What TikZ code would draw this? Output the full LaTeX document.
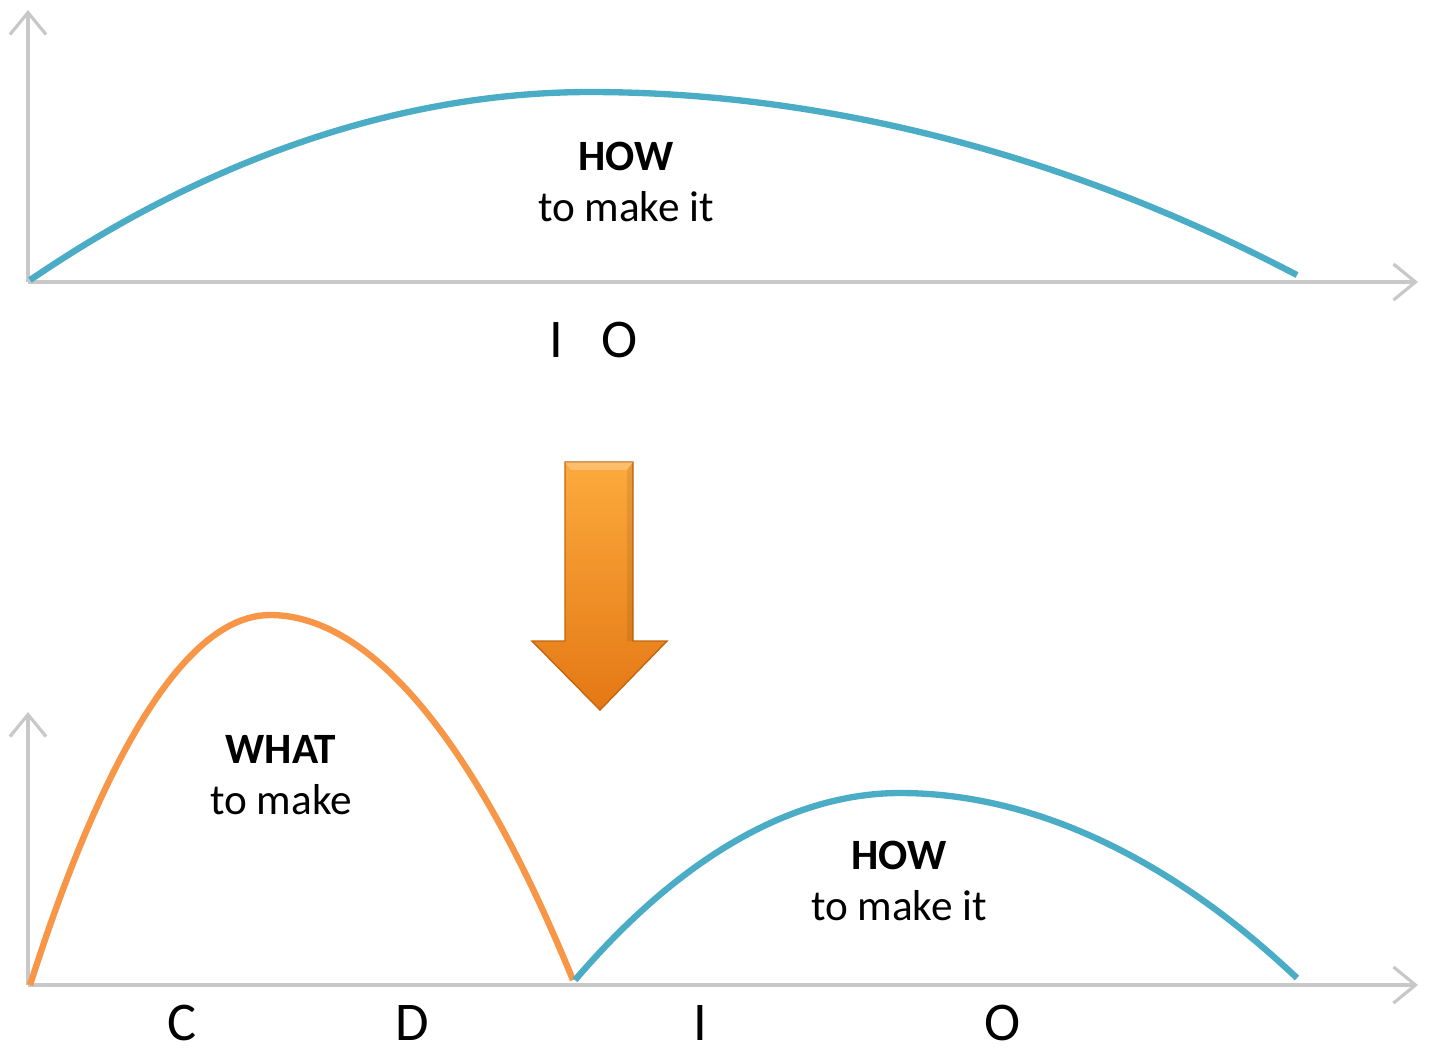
\documentclass[tikz,border=0pt]{standalone}
\usepackage{fontspec}
\setmainfont{Carlito}
\usepackage{xcolor}
\usetikzlibrary{arrows.meta,calc,positioning}
\definecolor{howblue}{RGB}{75,172,198}
\definecolor{whatorange}{RGB}{247,150,70}
\definecolor{axisgray}{RGB}{200,200,200}
\definecolor{arrowtop}{RGB}{252,170,60}
\definecolor{arrowbot}{RGB}{228,120,20}
\tikzset{
  axis/.style={-{Straight Barb[length=2.2mm,width=3.6mm]},line width=0.9pt,axisgray},
  howcurve/.style={line width=1.8pt,howblue},
  whatcurve/.style={line width=1.8pt,whatorange},
  phase/.style={font=\fontsize{12.3}{14.3}\selectfont,align=center,inner sep=1pt},
  stage/.style={font=\fontsize{15.5}{18}\selectfont,inner sep=0pt,anchor=base}
}
\begin{document}
\begin{tikzpicture}[x=0.01cm,y=-0.01cm]
  \useasboundingbox (0,0) rectangle (1438,1053);

  % top chart
  \coordinate (o1) at (28,282);
  \coordinate (y1) at (28,10);
  \coordinate (x1) at (1418,282);
  \draw[axis] (o1) -- (y1);
  \draw[axis] (o1) -- (x1);
  \draw[howcurve] (30,280) parabola bend (590,92) (1297,275);
  \node[phase] (how1) at (626,182) {\textbf{HOW}\\to make it};
  \node[stage] (i1) at (556,357) {I};
  \node[stage] (o1lbl) at (620,357) {O};

  % transition arrow
  \shade[top color=arrowtop,bottom color=arrowbot,draw=arrowbot!85!black,line width=0.4pt]
    (565,462) -- (633,462) -- (633,641) -- (667,641) -- (600,710)
    -- (532,641) -- (565,641) -- cycle;
  \fill[white,opacity=0.25] (565,462) -- (633,462) -- (627,470) -- (571,470) -- cycle;
  \fill[black,opacity=0.08] (633,462) -- (633,641) -- (627,641) -- (627,470) -- cycle;

  % bottom chart
  \coordinate (o2) at (28,985);
  \coordinate (y2) at (28,712);
  \coordinate (x2) at (1418,985);
  \draw[axis] (o2) -- (y2);
  \draw[axis] (o2) -- (x2);
  \draw[whatcurve] (30,985) parabola bend (270,615) (573,980);
  \draw[howcurve] (575,980) parabola bend (900,793) (1297,978);
  \node[phase] (what) at (281,775) {\textbf{WHAT}\\to make};
  \node[phase] (how2) at (899,881) {\textbf{HOW}\\to make it};
  \node[stage] (c) at (182,1040) {C};
  \node[stage] (d) at (412,1040) {D};
  \node[stage] (i2) at (700,1040) {I};
  \node[stage] (o2lbl) at (1003,1040) {O};
\end{tikzpicture}
\end{document}
